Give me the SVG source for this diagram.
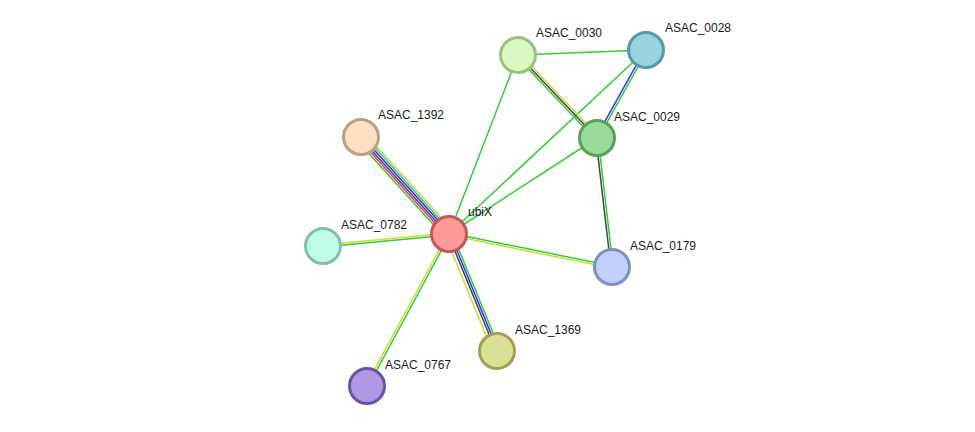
<svg xmlns="http://www.w3.org/2000/svg" width="975" height="432" viewBox="0 0 975 432">
  <style>
    .e line { stroke-width: 1.5; fill: none; }
    .g { stroke: #33cc33; }
    .y { stroke: #c8dc3c; }
    .k { stroke: #444444; }
    .b { stroke: #3333ff; }
    .r { stroke: #ff3333; }
    .c { stroke: #33bbdd; }
    .node circle { stroke-width: 3; }
    .node text { font-family: "Liberation Sans", Arial, sans-serif; font-size: 12px; fill: #1a1a1a; }
  </style>
  <rect width="975" height="432" fill="#ffffff"/>

  <!-- edges: each bundle is laid out along +x from its source node, parallel evidence lines offset in y -->
  <g id="edges" class="e">
    <!-- ubiX - ASAC_1392 -->
    <g transform="translate(449,234) rotate(-132.22)">
      <line class="g" x1="0" y1="-5.25" x2="131" y2="-5.25"/>
      <line class="r" x1="0" y1="-3.15" x2="131" y2="-3.15"/>
      <line class="b" x1="0" y1="-1.05" x2="131" y2="-1.05"/>
      <line class="k" x1="0" y1="1.05" x2="131" y2="1.05"/>
      <line class="c" x1="0" y1="3.15" x2="131" y2="3.15"/>
      <line class="y" x1="0" y1="5.25" x2="131" y2="5.25"/>
    </g>
    <!-- ubiX - ASAC_1369 -->
    <g transform="translate(449,234) rotate(67.69)">
      <line class="g" x1="0" y1="-3.2" x2="126.5" y2="-3.2"/>
      <line class="b" x1="0" y1="-1.1" x2="126.5" y2="-1.1"/>
      <line class="k" x1="0" y1="1" x2="126.5" y2="1"/>
      <line class="y" x1="0" y1="4.2" x2="126.5" y2="4.2"/>
    </g>
    <!-- ubiX - ASAC_0782 -->
    <g transform="translate(449,234) rotate(174.56)">
      <line class="g" x1="0" y1="-1.1" x2="126.6" y2="-1.1"/>
      <line class="y" x1="0" y1="1.1" x2="126.6" y2="1.1"/>
    </g>
    <!-- ubiX - ASAC_0767 -->
    <g transform="translate(449,234) rotate(118.35)">
      <line class="g" x1="0" y1="-1.1" x2="172.7" y2="-1.1"/>
      <line class="y" x1="0" y1="1.1" x2="172.7" y2="1.1"/>
    </g>
    <!-- ubiX - ASAC_0179 -->
    <g transform="translate(449,234) rotate(11.44)">
      <line class="g" x1="0" y1="-1.1" x2="166.3" y2="-1.1"/>
      <line class="y" x1="0" y1="1.1" x2="166.3" y2="1.1"/>
    </g>
    <!-- single-evidence links -->
    <line class="g" x1="449" y1="234" x2="518" y2="55"/>
    <line class="g" x1="449" y1="234" x2="646" y2="50"/>
    <line class="g" x1="449" y1="234" x2="597" y2="138"/>
    <line class="g" x1="518" y1="55" x2="646" y2="50"/>
    <!-- ASAC_0030 - ASAC_0029 -->
    <g transform="translate(518,55) rotate(46.41)">
      <line class="y" x1="0" y1="-2.1" x2="114.6" y2="-2.1"/>
      <line class="k" x1="0" y1="0" x2="114.6" y2="0"/>
      <line class="g" x1="0" y1="2.1" x2="114.6" y2="2.1"/>
    </g>
    <!-- ASAC_0028 - ASAC_0029 -->
    <g transform="translate(646,50) rotate(119.11)">
      <line class="g" x1="0" y1="-1.1" x2="100.7" y2="-1.1"/>
      <line class="b" x1="0" y1="1.1" x2="100.7" y2="1.1"/>
    </g>
    <!-- ASAC_0029 - ASAC_0179 -->
    <g transform="translate(597,138) rotate(83.37)">
      <line class="g" x1="0" y1="-1.1" x2="129.9" y2="-1.1"/>
      <line class="k" x1="0" y1="1.1" x2="129.9" y2="1.1"/>
    </g>
  </g>

  <!-- nodes -->
  <g id="ubiX" class="node">
    <circle cx="449" cy="234" r="17.5" fill="#ff9a9a" stroke="#c05a5a"/>
    <text x="468" y="216">ubiX</text>
  </g>
  <g id="ASAC_1392" class="node">
    <circle cx="361" cy="137" r="17.5" fill="#fde0bf" stroke="#b8a080"/>
    <text x="378" y="119">ASAC_1392</text>
  </g>
  <g id="ASAC_0782" class="node">
    <circle cx="323" cy="246" r="17.5" fill="#c0fde6" stroke="#80c0a8"/>
    <text x="341" y="229">ASAC_0782</text>
  </g>
  <g id="ASAC_0767" class="node">
    <circle cx="367" cy="386" r="17.5" fill="#ad9ae2" stroke="#6a55a0"/>
    <text x="385" y="369">ASAC_0767</text>
  </g>
  <g id="ASAC_1369" class="node">
    <circle cx="497" cy="351" r="17.5" fill="#d9df94" stroke="#a0a050"/>
    <text x="515" y="334">ASAC_1369</text>
  </g>
  <g id="ASAC_0179" class="node">
    <circle cx="612" cy="267" r="17.5" fill="#c2d0fc" stroke="#8090c0"/>
    <text x="630" y="250">ASAC_0179</text>
  </g>
  <g id="ASAC_0029" class="node">
    <circle cx="597" cy="138" r="17.5" fill="#99dc99" stroke="#5aa05a"/>
    <text x="614" y="121">ASAC_0029</text>
  </g>
  <g id="ASAC_0030" class="node">
    <circle cx="518" cy="55" r="17.5" fill="#daf8c0" stroke="#9cc080"/>
    <text x="536" y="37">ASAC_0030</text>
  </g>
  <g id="ASAC_0028" class="node">
    <circle cx="646" cy="50" r="17.5" fill="#99d3e0" stroke="#5898a8"/>
    <text x="665" y="32">ASAC_0028</text>
  </g>
</svg>
